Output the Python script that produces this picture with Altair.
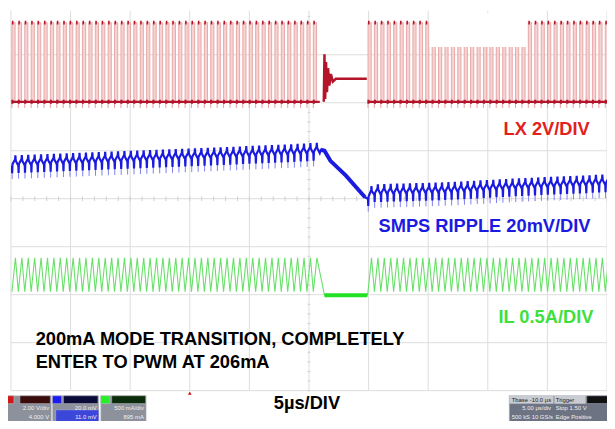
import altair as alt
import numpy as np
import pandas as pd

# ---------------- values ----------------
# time in µs (5 µs/div, 10 div); vertical position in screen divisions (0 = centre line)
grid_time_us = [0, 5, 10, 15, 20, 25, 30, 35, 40, 45, 50]
grid_div = [-4, -3, -2, -1, 0, 1, 2, 3, 4]

switch_period_us = 0.538
burst_start_us = [0.08, 29.95]
burst_end_us = [26.32, 50.4]

# LX (red)
lx_duty = 0.5
lx_high_div = 3.67
lx_low_div = 2.02
lx_ring_t = [26.24, 26.30, 26.36, 26.43, 26.51, 26.60, 26.71, 26.84, 27.00, 27.25, 29.85]
lx_ring_d = [2.02, 3.01, 2.08, 2.85, 2.22, 2.72, 2.36, 2.60, 2.44, 2.50, 2.50]

# SMPS ripple (blue): slow trend + per-cycle ripple shape
ripple_trend_t = [0.0, 7.4, 15.6, 23.9, 26.0, 26.3, 26.8, 28.1, 29.7, 30.5, 36.3, 43.0, 50.4]
ripple_trend_d = [0.75, 0.82, 0.90, 0.99, 1.02, 1.00, 0.79, 0.48, 0.03, 0.15, 0.19, 0.28, 0.36]
ripple_cycle_frac = [0.0, 0.04, 0.09, 0.50, 0.54, 0.60, 1.0]
ripple_cycle_off = [-0.07, -0.22, -0.03, 0.07, 0.15, 0.04, -0.07]
ripple_spike_div = -0.34

# IL (green)
il_peak_div = -1.23
il_valley_div = -1.94
il_flat_div = -2.01
il_rise_frac = 0.55
il_flat_t = [26.30, 29.90]

# labels
trace_labels = ["LX 2V/DIV", "SMPS RIPPLE 20mV/DIV", "IL 0.5A/DIV"]
trace_label_t = [48.55, 48.62, 48.86]
trace_label_d = [1.45, -0.57, -2.46]
trace_label_color = ["#e3201b", "#1a1ae0", "#3ee03e"]
note_lines = ["200mA MODE TRANSITION, COMPLETELY", "ENTER TO PWM AT 206mA"]
note_t = [2.07, 2.07]
note_d = [-2.93, -3.41]
time_label = "5µs/DIV"

# ---------------- build tables ----------------
P = switch_period_us
cycles = []
for s, e in zip(burst_start_us, burst_end_us):
    t = s
    while t + P <= e + 1e-9:
        cycles.append(t)
        t += P
cycles = np.array(cycles)
gap_lo = burst_start_us[0] + int((burst_end_us[0] - burst_start_us[0]) / P) * P

lx_bars = pd.DataFrame({"t0": cycles, "t1": cycles + lx_duty * P})
lx_bars["lo"] = lx_low_div
lx_bars["hi"] = lx_high_div
lx_bars["tb"] = lx_bars["t0"] + 0.13
lx_bars["tb0"] = lx_bars["t0"] - 0.05
lx_bars["spike"] = lx_low_div - 0.13
lx_base = pd.DataFrame({"t0": burst_start_us, "t1": [gap_lo, burst_end_us[1]],
                        "d": [lx_low_div, lx_low_div]})
lx_ring = pd.DataFrame({"t": lx_ring_t, "d": lx_ring_d, "i": list(range(len(lx_ring_t)))})

blue_t, blue_d = [], []
for c in cycles:
    if c > gap_lo and blue_t and blue_t[-1] < gap_lo + 0.01:
        for tt, dd in zip(ripple_trend_t, ripple_trend_d):
            if gap_lo < tt < c:
                blue_t.append(tt)
                blue_d.append(dd)
    for f, o in zip(ripple_cycle_frac, ripple_cycle_off):
        tt = c + f * P
        blue_t.append(float(tt))
        blue_d.append(float(np.interp(tt, ripple_trend_t, ripple_trend_d)) + o)
blue = pd.DataFrame({"t": blue_t, "d": blue_d, "i": list(range(len(blue_t)))})
spk_t = cycles + 0.04 * P
spk_base = np.interp(spk_t, ripple_trend_t, ripple_trend_d)
blue_spikes = pd.DataFrame({"t": spk_t, "d0": spk_base - 0.05, "d1": spk_base + ripple_spike_div})
ramp_t = [t for t in ripple_trend_t if gap_lo - 0.1 <= t <= 30.0]
ramp_d = [d for t, d in zip(ripple_trend_t, ripple_trend_d) if gap_lo - 0.1 <= t <= 30.0]
ramp = pd.DataFrame({"t": ramp_t, "d": ramp_d, "i": list(range(len(ramp_t)))})

g_t, g_d = [], []
for c in cycles:
    if c > gap_lo and g_t and g_t[-1] < gap_lo + 0.01:
        g_t += [il_flat_t[0], il_flat_t[1]]
        g_d += [il_flat_div, il_flat_div]
    g_t += [float(c), float(c + il_rise_frac * P)]
    g_d += [il_valley_div, il_peak_div]
green = pd.DataFrame({"t": g_t, "d": g_d, "i": list(range(len(g_t)))})
green_flat = pd.DataFrame({"t": il_flat_t, "d": [il_flat_div, il_flat_div]})

vgrid = pd.DataFrame({"t": grid_time_us})
hgrid = pd.DataFrame({"d": grid_div})
mt = np.arange(0, 50.01, 1.0)
minor_t = pd.DataFrame({"t": mt, "d0": -0.05, "d1": 0.05})
md = np.arange(-4, 4.01, 0.2)
minor_d = pd.DataFrame({"d": md, "t0": 24.88, "t1": 25.12})

labels = pd.DataFrame({"txt": trace_labels, "t": trace_label_t, "d": trace_label_d,
                       "c": trace_label_color})
notes = pd.DataFrame({"txt": note_lines, "t": note_t, "d": note_d})

# ---------------- chart ----------------
XS = alt.Scale(domain=[0, 50], nice=False, zero=False)
YS = alt.Scale(domain=[-4.0, 3.918], nice=False, zero=False)


def X(f):
    return alt.X(f, type="quantitative", scale=XS, axis=None)


def Y(f):
    return alt.Y(f, type="quantitative", scale=YS, axis=None)


grid_col = "#dcdcdc"
FS = 18.5
layers = [
    alt.Chart(vgrid).mark_rule(color=grid_col, strokeWidth=1).encode(x=X("t")),
    alt.Chart(hgrid).mark_rule(color=grid_col, strokeWidth=1).encode(y=Y("d")),
    alt.Chart(minor_t).mark_rule(color="#cfcfcf").encode(x=X("t"), y=Y("d0"), y2="d1"),
    alt.Chart(minor_d).mark_rule(color="#cfcfcf").encode(y=Y("d"), x=X("t0"), x2="t1"),
    # LX
    alt.Chart(lx_bars).mark_rect(fill="#f6d2d2", stroke="#e49a9a", strokeWidth=0.8, clip=True).encode(
        x=X("t0"), x2="t1", y=Y("lo"), y2="hi"),
    alt.Chart(lx_bars).mark_rule(color="#e7a3a3", strokeWidth=1, clip=True).encode(
        x=X("t0"), y=Y("spike"), y2="lo"),
    alt.Chart(lx_base).mark_rule(color="#b3142a", strokeWidth=2.2, clip=True).encode(
        x=X("t0"), x2="t1", y=Y("d")),
    alt.Chart(lx_bars).mark_rule(color="#b3142a", strokeWidth=4, clip=True).encode(
        x=X("tb0"), x2="tb", y=Y("lo")),
    alt.Chart(lx_bars).mark_rule(color="#b3142a", strokeWidth=4, clip=True).encode(
        x=X("t0"), x2="tb", y=Y("hi")),
    alt.Chart(lx_ring).mark_line(color="#b3142a", strokeWidth=2.5).encode(
        x=X("t"), y=Y("d"), order="i:Q"),
    # SMPS ripple
    alt.Chart(blue_spikes).mark_rule(color="#7f7ff0", strokeWidth=1, clip=True).encode(
        x=X("t"), y=Y("d0"), y2="d1"),
    alt.Chart(blue).mark_line(color="#1b1be0", strokeWidth=2.2, clip=True).encode(
        x=X("t"), y=Y("d"), order="i:Q"),
    alt.Chart(ramp).mark_line(color="#1b1be0", strokeWidth=4).encode(
        x=X("t"), y=Y("d"), order="i:Q"),
    # IL
    alt.Chart(green).mark_line(color="#66e066", strokeWidth=1.1, clip=True).encode(
        x=X("t"), y=Y("d"), order="i:Q"),
    alt.Chart(green_flat).mark_line(color="#22e022", strokeWidth=4).encode(x=X("t"), y=Y("d")),
    # white patch over LX
    alt.Chart(pd.DataFrame({"t0": [35.1], "t1": [43.2], "d0": [3.16], "d1": [3.88]})).mark_rect(
        fill="white").encode(x=X("t0"), x2="t1", y=Y("d0"), y2="d1"),
    # trace labels
    alt.Chart(labels).mark_text(align="right", baseline="middle", font="Liberation Sans",
                                fontWeight="bold", fontSize=FS).encode(
        x=X("t"), y=Y("d"), text="txt:N", color=alt.Color("c:N", scale=None)),
    alt.Chart(notes).mark_text(align="left", baseline="middle", font="Liberation Sans",
                               fontWeight="bold", fontSize=FS, color="black").encode(
        x=X("t"), y=Y("d"), text="txt:N"),
    alt.Chart(pd.DataFrame({"txt": [time_label], "t": [24.83], "d": [-4.25]})).mark_text(
        align="center", baseline="middle", font="Liberation Sans", fontWeight="bold",
        fontSize=FS, color="black").encode(x=X("t"), y=Y("d"), text="txt:N"),
    # trigger marker
    alt.Chart(pd.DataFrame({"t": [15.0], "d": [-4.05]})).mark_point(
        shape="triangle-up", filled=True, size=14, color="#d01010", opacity=1).encode(
        x=X("t"), y=Y("d")),
]

# scope info boxes below the plot
boxes = pd.DataFrame({
    "t0": [-0.5, -0.5, 0.75, 3.48, 3.48, 4.4, 3.75, 7.53, 7.53, 8.45, 41.8, 41.8, 45.6, 48.3],
    "t1": [3.39, 0.25, 3.3, 7.37, 4.25, 7.3, 7.37, 11.34, 8.3, 11.3, 50.5, 45.5, 48.2, 50.5],
    "d0": [-4.107, -4.107, -4.107, -4.107, -4.107, -4.107, -4.40, -4.107, -4.107, -4.107,
           -4.107, -4.107, -4.107, -4.107],
    "d1": [-4.70, -4.27, -4.27, -4.70, -4.27, -4.27, -4.70, -4.70, -4.27, -4.27,
           -4.70, -4.27, -4.27, -4.27],
    "c": ["#8c919b", "#d01818", "#3a0b0b", "#8c919b", "#1c1cf0", "#0b0b3a", "#3c46d8",
          "#8c919b", "#28ee28", "#0b2c0b", "#6d7383", "#c9ccd3", "#c9ccd3", "#111111"],
})
box_text = pd.DataFrame({
    "txt": ["2.00 V/div", "4.000 V", "20.0 mV", "11.0 mV", "500 mA/div", "895 mA",
            "Tbase   -10.0 µs", "5.00 µs/div", "500 kS   10 GS/s", "Trigger", "Stop  1.50 V",
            "Edge  Positive"],
    "t": [3.2, 3.2, 7.2, 7.2, 11.15, 11.15, 42.0, 45.3, 42.0, 45.7, 45.7, 45.7],
    "d": [-4.36, -4.55, -4.36, -4.55, -4.36, -4.55, -4.19, -4.36, -4.55, -4.19, -4.36, -4.55],
    "a": ["right", "right", "right", "right", "right", "right", "left", "right", "left",
          "left", "left", "left"],
    "c": ["#f0f0f0"] * 6 + ["#222222", "#f0f0f0", "#f0f0f0", "#222222", "#f0f0f0", "#f0f0f0"],
})
layers.append(alt.Chart(boxes).mark_rect(stroke="#c0c4cc", strokeWidth=0.5).encode(
    x=X("t0"), x2="t1", y=Y("d0"), y2="d1", fill=alt.Color("c:N", scale=None)))
for a in ["left", "right"]:
    layers.append(alt.Chart(box_text[box_text["a"] == a]).mark_text(
        align=a, baseline="middle", fontSize=6, font="Liberation Sans").encode(
        x=X("t"), y=Y("d"), text="txt:N", color=alt.Color("c:N", scale=None)))

chart = alt.layer(*layers).properties(
    width=604, height=385,
    padding={"left": 3, "top": 0, "right": 0, "bottom": 28},
    autosize=alt.AutoSizeParams(type="none"),
    background="white",
).configure_view(stroke=None)

chart.save("out.html", embed_options={"renderer": "svg", "actions": False})
